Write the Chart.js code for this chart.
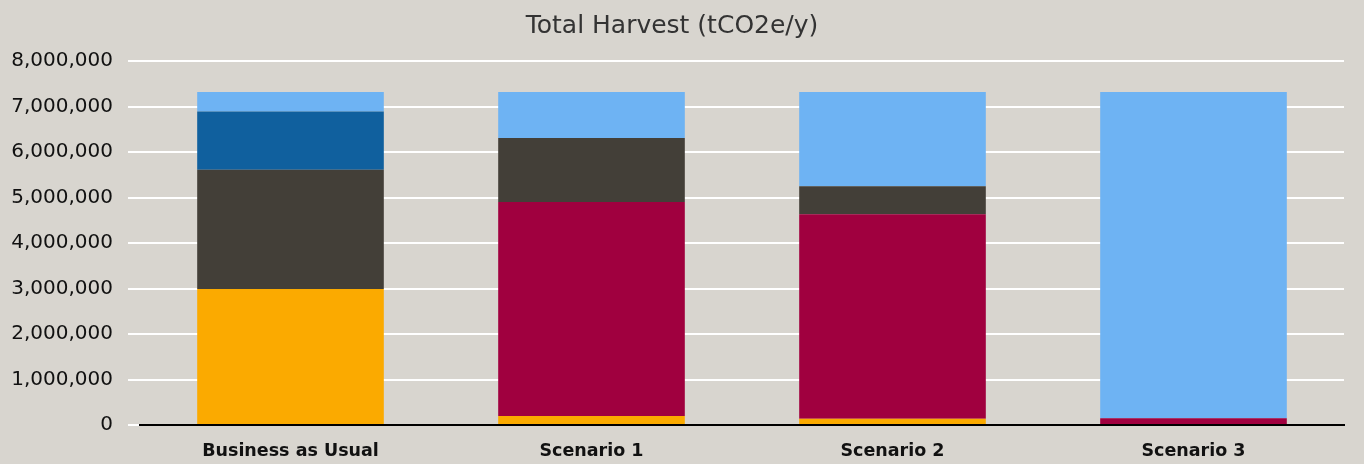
<!DOCTYPE html>
<html>
<head>
<meta charset="utf-8">
<script src="https://cdn.jsdelivr.net/npm/chart.js@4.4.0/dist/chart.umd.min.js"></script>
<style>
    html, body { margin: 0; padding: 0; background: #d8d5cf; }
    #wrap { width: 1364px; height: 464px; }
</style>
</head>
<body>
<div id="wrap"><canvas id="harvestChart"></canvas></div>
<script>
const categories = ['Business as Usual', 'Scenario 1', 'Scenario 2', 'Scenario 3'];

// stacked bottom -> top
const orangeValues    = [2990000, 200000, 140000, 0];
const redValues       = [0, 4700000, 4490000, 150000];
const greyValues      = [2620000, 1410000, 620000, 0];
const darkBlueValues  = [1280000, 0, 0, 0];
const lightBlueValues = [430000, 1010000, 2070000, 7170000];

const yTicks = [0, 1000000, 2000000, 3000000, 4000000, 5000000, 6000000, 7000000, 8000000];

function makeDataset(label, data, color) {
    return {
        label: label,
        data: data,
        backgroundColor: color,
        borderWidth: 0,
        barPercentage: 0.62,
        categoryPercentage: 1
    };
}

const ctx = document.getElementById('harvestChart').getContext('2d');

new Chart(ctx, {
    type: 'bar',
    data: {
        labels: categories,
        datasets: [
            makeDataset('Orange', orangeValues, '#fbaa00'),
            makeDataset('Red', redValues, '#a0003f'),
            makeDataset('Grey', greyValues, '#433f38'),
            makeDataset('Dark blue', darkBlueValues, '#10609e'),
            makeDataset('Light blue', lightBlueValues, '#6eb3f3')
        ]
    },
    options: {
        responsive: true,
        maintainAspectRatio: false,
        animation: false,
        layout: {
            padding: { left: 0, right: 20, top: 0, bottom: 0 }
        },
        plugins: {
            legend: { display: false },
            tooltip: { enabled: false },
            title: {
                display: true,
                text: 'Total Harvest (tCO2e/y)',
                color: '#333',
                font: { family: 'DejaVu Sans', size: 25, weight: 'normal' },
                padding: { top: 11, bottom: 20 }
            }
        },
        scales: {
            x: {
                stacked: true,
                grid: { display: false, drawTicks: false },
                border: { display: true, color: '#000', width: 2 },
                afterFit: (scale) => {
                    scale.height = 39;
                },
                ticks: {
                    color: '#111',
                    padding: 16,
                    font: { family: 'DejaVu Sans', size: 17.5, weight: 'bold' }
                }
            },
            y: {
                stacked: true,
                min: 0,
                max: 8000000,
                afterBuildTicks: (scale) => {
                    scale.ticks = yTicks.map(v => ({ value: v }));
                },
                afterFit: (scale) => {
                    scale.width = 140;
                },
                grid: {
                    color: '#ffffff',
                    lineWidth: 2,
                    drawTicks: true,
                    tickLength: 12
                },
                border: { display: false },
                ticks: {
                    color: '#111',
                    padding: 15,
                    font: { family: 'DejaVu Sans', size: 20 },
                    callback: (v) => Number(v).toLocaleString('en-US')
                }
            }
        }
    }
});
</script>
</body>
</html>
